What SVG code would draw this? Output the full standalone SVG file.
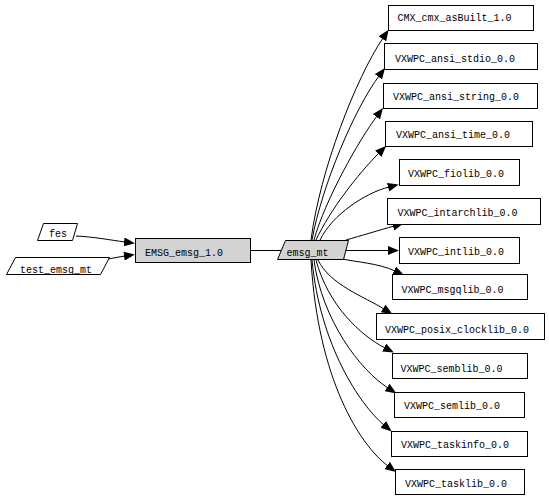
<svg xmlns="http://www.w3.org/2000/svg" width="549" height="498" viewBox="0 0 549 498">
<style>
.box{fill:#ffffff;stroke:#000000;stroke-width:1}
.gray{fill:#d3d3d3;stroke:#000000;stroke-width:1}
.lbl{font-family:"Liberation Mono","DejaVu Sans Mono",monospace;font-size:10px;fill:#000000}
.edge{fill:none;stroke:#000000;stroke-width:1}
.arr{marker-end:url(#ah)}
</style>
<defs>
<marker id="ah" viewBox="0 0 11 9" refX="1" refY="4.5" markerWidth="11" markerHeight="9" markerUnits="userSpaceOnUse" orient="auto">
<path d="M0,0 L11,4.5 L0,9 Z" fill="#000000"/>
</marker>
</defs>
<rect x="0" y="0" width="549" height="498" fill="#ffffff"/>
<g id="edges">
<path class="edge arr" d="M76,236 C95,237 110,240 125,242"/>
<path class="edge arr" d="M108,259 C114,258 118,257 125,256"/>
<path class="edge" d="M250,250.5 L281,250.5"/>
<path class="edge arr" d="M311,240 C320,170 356,78 383,38"/>
<path class="edge arr" d="M312,240 C322,185 355,108 379,76"/>
<path class="edge arr" d="M314,240 C325,200 359,140 377,116"/>
<path class="edge arr" d="M316,240 C330,210 358,174 379,153"/>
<path class="edge arr" d="M320,240 C332,215 365,193 389,187"/>
<path class="edge arr" d="M346,240 C360,236 380,230 394,226"/>
<path class="edge arr" d="M344,250.5 L389,250.5"/>
<path class="edge arr" d="M343,259 C355,262 378,263 395,271"/>
<path class="edge arr" d="M318,260 C330,285 365,297 384,309"/>
<path class="edge arr" d="M316,260 C328,305 360,335 385,348"/>
<path class="edge arr" d="M314,260 C322,320 360,370 388,388"/>
<path class="edge arr" d="M312,260 C320,345 360,405 384,425"/>
<path class="edge arr" d="M311,260 C318,380 360,445 388,466"/>
</g>
<g id="fes">
<polygon class="box" points="43.5,223.5 77.5,223.5 72.5,240.5 37.5,240.5"/>
<text class="lbl" x="49" y="237">fes</text>
</g>
<g id="test_emsg_mt">
<polygon class="box" points="15.5,257.5 109.5,257.5 100.5,274.5 6.5,274.5"/>
<text class="lbl" x="20" y="272.5">test_emsg_mt</text>
</g>
<g id="EMSG_emsg_1.0">
<rect class="gray" x="135.5" y="238.5" width="115" height="24"/>
<text class="lbl" x="145" y="255.5">EMSG_emsg_1.0</text>
</g>
<g id="emsg_mt">
<polygon class="gray" points="285.5,240.5 348.5,240.5 343.5,259.5 277.5,259.5"/>
<text class="lbl" x="286.5" y="255.5">emsg_mt</text>
</g>
<g id="CMX_cmx_asBuilt_1.0">
<rect class="box" x="388.5" y="5.5" width="145" height="25"/>
<text class="lbl" x="397.5" y="21">CMX_cmx_asBuilt_1.0</text>
</g>
<g id="VXWPC_ansi_stdio_0.0">
<rect class="box" x="384.5" y="43.5" width="153" height="26"/>
<text class="lbl" x="395" y="62">VXWPC_ansi_stdio_0.0</text>
</g>
<g id="VXWPC_ansi_string_0.0">
<rect class="box" x="383.5" y="83.5" width="154" height="25"/>
<text class="lbl" x="393" y="100">VXWPC_ansi_string_0.0</text>
</g>
<g id="VXWPC_ansi_time_0.0">
<rect class="box" x="385.5" y="121.5" width="147" height="25"/>
<text class="lbl" x="396" y="138">VXWPC_ansi_time_0.0</text>
</g>
<g id="VXWPC_fiolib_0.0">
<rect class="box" x="399.5" y="159.5" width="120" height="26"/>
<text class="lbl" x="408" y="176.5">VXWPC_fiolib_0.0</text>
</g>
<g id="VXWPC_intarchlib_0.0">
<rect class="box" x="387.5" y="198.5" width="153" height="26"/>
<text class="lbl" x="397.5" y="215.5">VXWPC_intarchlib_0.0</text>
</g>
<g id="VXWPC_intlib_0.0">
<rect class="box" x="399.5" y="237.5" width="120" height="26"/>
<text class="lbl" x="408" y="254.5">VXWPC_intlib_0.0</text>
</g>
<g id="VXWPC_msgqlib_0.0">
<rect class="box" x="392.5" y="274.5" width="135" height="25"/>
<text class="lbl" x="401.5" y="293">VXWPC_msgqlib_0.0</text>
</g>
<g id="VXWPC_posix_clocklib_0.0">
<rect class="box" x="376.5" y="313.5" width="168" height="26"/>
<text class="lbl" x="385" y="332.5">VXWPC_posix_clocklib_0.0</text>
</g>
<g id="VXWPC_semblib_0.0">
<rect class="box" x="392.5" y="353.5" width="135" height="25"/>
<text class="lbl" x="400.5" y="371.5">VXWPC_semblib_0.0</text>
</g>
<g id="VXWPC_semlib_0.0">
<rect class="box" x="394.5" y="392.5" width="130" height="25"/>
<text class="lbl" x="404" y="409">VXWPC_semlib_0.0</text>
</g>
<g id="VXWPC_taskinfo_0.0">
<rect class="box" x="391.5" y="431.5" width="136" height="25"/>
<text class="lbl" x="401" y="447.5">VXWPC_taskinfo_0.0</text>
</g>
<g id="VXWPC_tasklib_0.0">
<rect class="box" x="395.5" y="469.5" width="129" height="25"/>
<text class="lbl" x="405" y="486.5">VXWPC_tasklib_0.0</text>
</g>
</svg>
